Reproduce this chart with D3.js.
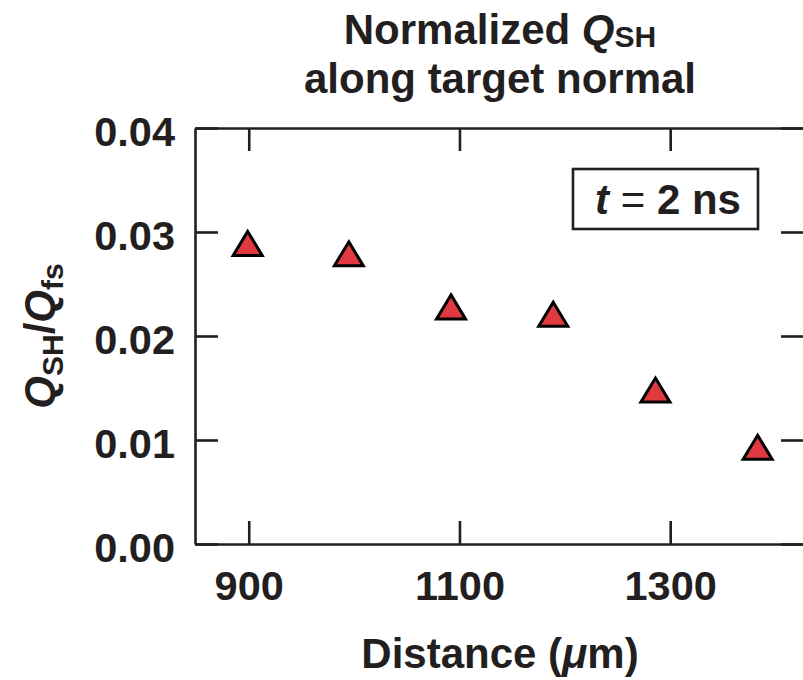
<!DOCTYPE html>
<html>
<head>
<meta charset="utf-8">
<script src="https://cdn.jsdelivr.net/npm/d3@7"></script>
<style>
  html, body { margin: 0; padding: 0; background: #fff; overflow: hidden; }
  svg { display: block; }
  text { font-family: "Liberation Sans", Arial, Helvetica, sans-serif; font-weight: bold; fill: #231f20; }
</style>
</head>
<body>
<svg id="chart" width="803" height="680"></svg>
<script>
// Distance from target (µm) and normalized heat flux Q_SH/Q_fs
const distance = [899, 995, 1092, 1189, 1286, 1383];
const qRatio   = [0.0289, 0.0279, 0.0228, 0.0221, 0.0148, 0.0093];
const xTicks = [900, 1100, 1300];
const yTicks = [0, 0.01, 0.02, 0.03, 0.04];
const xDomain = [849, 1427];
const yDomain = [0, 0.04];

const W = 803, H = 680;
const margin = { left: 195, right: -1, top: 128, bottom: 136 };
const svg = d3.select("#chart");
const ink = "#231f20";

const x = d3.scaleLinear().domain(xDomain).range([margin.left, W - margin.right]);
const y = d3.scaleLinear().domain(yDomain).range([H - margin.bottom, margin.top]);

const tickLen = 23;

// Axes: ticks point inward on all four sides
const xBottom = svg.append("g").attr("transform", `translate(0,${y(0)})`)
  .call(d3.axisBottom(x).tickValues(xTicks).tickSizeInner(-tickLen).tickSizeOuter(0)
    .tickFormat(d3.format("d")).tickPadding(27));
const xTop = svg.append("g").attr("transform", `translate(0,${y(yDomain[1])})`)
  .call(d3.axisTop(x).tickValues(xTicks).tickSizeInner(-tickLen).tickSizeOuter(0).tickFormat(""));
const yLeft = svg.append("g").attr("transform", `translate(${x(xDomain[0])},0)`)
  .call(d3.axisLeft(y).tickValues(yTicks).tickSizeInner(-tickLen).tickSizeOuter(0)
    .tickFormat(d3.format(".2f")).tickPadding(20));
const yRight = svg.append("g").attr("transform", `translate(${x(xDomain[1])},0)`)
  .call(d3.axisRight(y).tickValues(yTicks).tickSizeInner(-tickLen).tickSizeOuter(0).tickFormat(""));

[xBottom, xTop, yLeft, yRight].forEach(g => {
  g.select(".domain").attr("stroke", ink).attr("stroke-width", 2.6);
  g.selectAll(".tick line").attr("stroke", ink).attr("stroke-width", 2.6);
  g.selectAll(".tick text").attr("font-size", 41.5).attr("font-family", null).attr("fill", ink);
});
yLeft.selectAll(".tick text").attr("dy", "0.42em");

// Triangle markers centred on each data point
const tw = 29, th = 24;
svg.append("g").selectAll("path").data(distance).join("path")
  .attr("d", (d, i) => {
    const cx = x(d), cy = y(qRatio[i]);
    return `M${cx},${cy - th / 2}L${cx + tw / 2},${cy + th / 2}L${cx - tw / 2},${cy + th / 2}Z`;
  })
  .attr("fill", "#e03a40").attr("stroke", "#000").attr("stroke-width", 3).attr("stroke-linejoin", "miter");

// Two-line title
const title = svg.append("text").attr("x", 500).attr("y", 44).attr("text-anchor", "middle").attr("font-size", 42);
title.append("tspan").text("Normalized ");
title.append("tspan").attr("font-style", "italic").text("Q");
title.append("tspan").attr("font-size", 30).attr("dy", 3).text("SH");
svg.append("text").attr("x", 500).attr("y", 93).attr("text-anchor", "middle").attr("font-size", 42)
  .text("along target normal");

// X axis title
const xt = svg.append("text").attr("x", 500).attr("y", 668).attr("text-anchor", "middle").attr("font-size", 42);
xt.append("tspan").text("Distance (");
xt.append("tspan").attr("font-style", "italic").text("\u03bc");
xt.append("tspan").text("m)");

// Y axis title
const yt = svg.append("text").attr("transform", "translate(54,336) rotate(-90)")
  .attr("text-anchor", "middle").attr("font-size", 42);
yt.append("tspan").attr("font-style", "italic").text("Q");
yt.append("tspan").attr("font-size", 30).attr("dy", 9).text("SH");
yt.append("tspan").attr("dy", -9).text("/");
yt.append("tspan").attr("font-style", "italic").text("Q");
yt.append("tspan").attr("font-size", 30).attr("dy", 9).text("fs");

// Time label box
const box = svg.append("g");
box.append("rect").attr("x", 573).attr("y", 169).attr("width", 185).attr("height", 60)
  .attr("fill", "#fff").attr("stroke", ink).attr("stroke-width", 2.6);
const tl = box.append("text").attr("x", 668).attr("y", 214).attr("text-anchor", "middle").attr("font-size", 42);
tl.append("tspan").attr("font-style", "italic").text("t");
tl.append("tspan").text(" ");
tl.append("tspan").attr("font-weight", "normal").text("=");
tl.append("tspan").text(" 2 ns");
</script>
</body>
</html>
